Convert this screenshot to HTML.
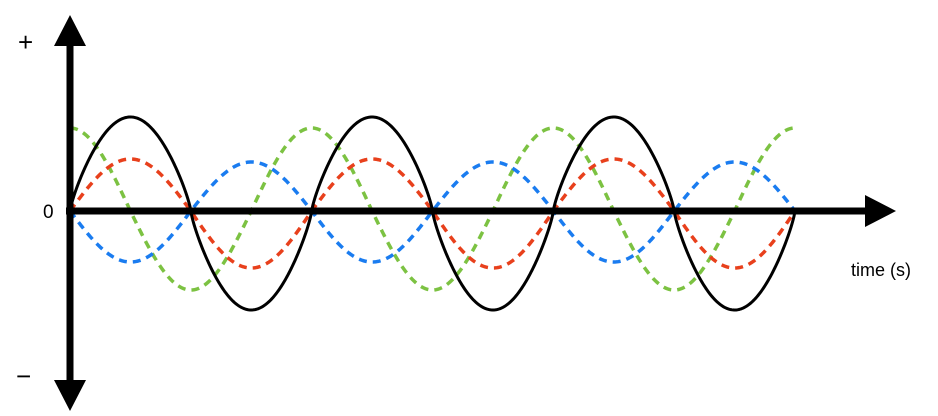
<!DOCTYPE html>
<html><head><style>body{margin:0;background:#fff}svg{display:block}</style></head><body>
<svg id="s" width="938" height="416" xmlns="http://www.w3.org/2000/svg" font-family="Liberation Sans, sans-serif">
<g id="w"></g>
<line x1="70" y1="40" x2="70" y2="385" stroke="#000" stroke-width="7"/>
<polygon points="70,15 54,46 86,46" fill="#000"/>
<polygon points="70,411 54,380 86,380" fill="#000"/>
<line x1="66" y1="211" x2="870" y2="211" stroke="#000" stroke-width="7"/>
<polygon points="896,211 865,195 865,227" fill="#000"/>
<text x="18" y="51" font-size="26">+</text>
<text x="43" y="218" font-size="19">0</text>
<text x="16" y="385" font-size="26">−</text>
<text x="851" y="276" font-size="18">time (s)</text>
</svg>
<script>
var g=document.getElementById('w'),x0=70,x1=795,P=(x1-x0)/3,c=211;
function path(f,col,dash,w){var d='';for(var x=x0;x<=x1;x+=1){var t=(x-x0)/P*2*Math.PI;d+=(x==x0?'M':'L')+x+','+(c-f(t)).toFixed(2);}
var p=document.createElementNS('http://www.w3.org/2000/svg','path');p.setAttribute('d',d);p.setAttribute('fill','none');p.setAttribute('stroke',col);p.setAttribute('stroke-width',w);if(dash)p.setAttribute('stroke-dasharray',dash);g.appendChild(p);}
function A(up,dn,v){return v>0?up*v:dn*v;}
path(function(t){return A(83,79,Math.cos(t))},'#7cc242','8 6',3.5);
path(function(t){return A(49,51,-Math.sin(t))},'#1a7cf0','8 6',3.5);
path(function(t){return A(52,57,Math.sin(t))},'#e8401c','8 6',3.5);
path(function(t){var s=Math.sin(t);return A(94,99,Math.sign(s)*Math.pow(Math.abs(s),0.8))},'#000',null,3);
</script>
</body></html>
